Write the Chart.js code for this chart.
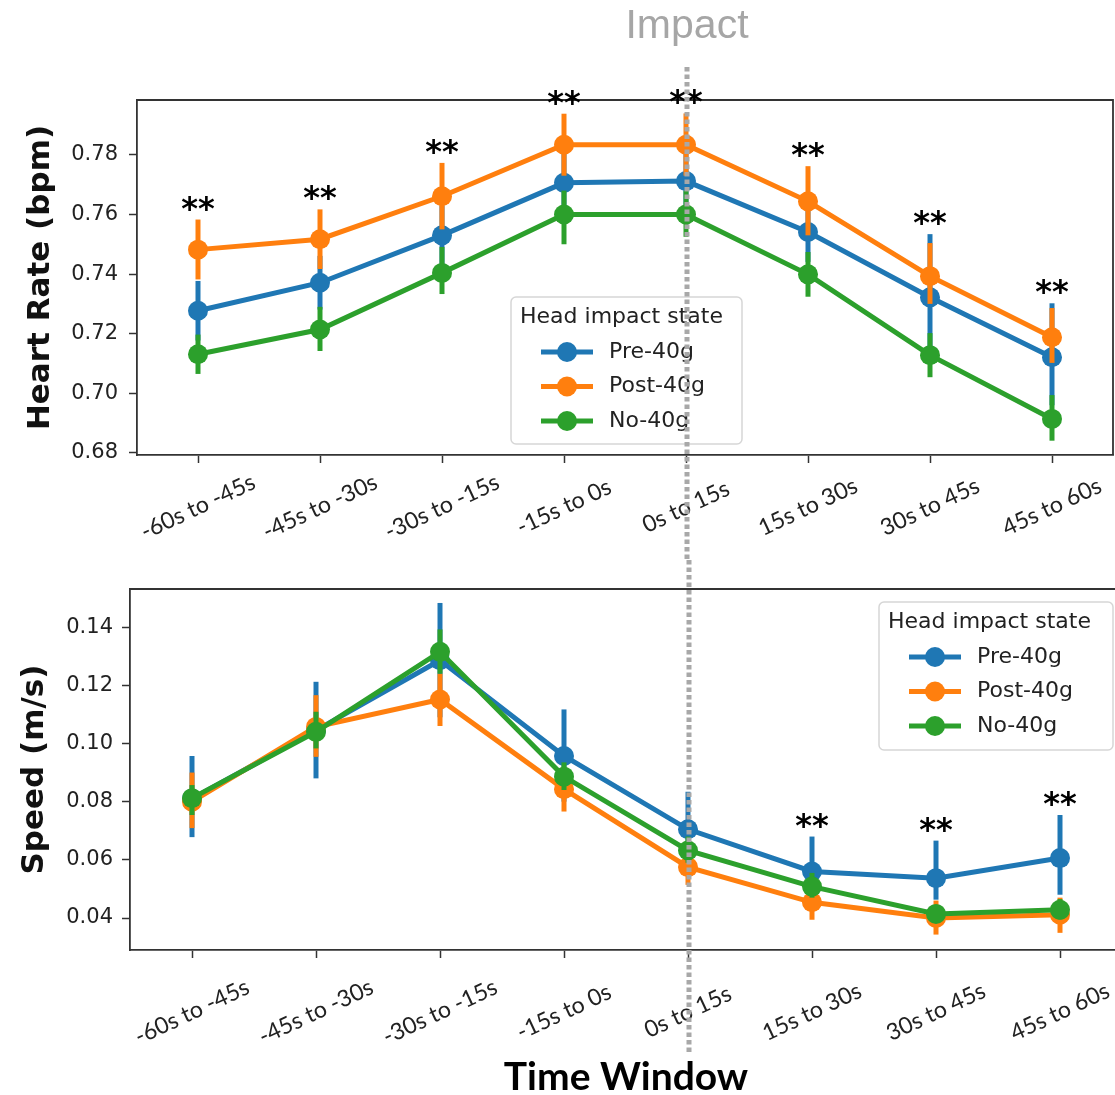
<!DOCTYPE html>
<html>
<head>
<meta charset="utf-8">
<script src="https://cdn.jsdelivr.net/npm/chart.js@4.4.1/dist/chart.umd.min.js"></script>
<style>
  html, body { margin: 0; padding: 0; background: #fff; overflow: hidden; width: 1115px; height: 1095px; }
  #wrap { position: relative; width: 1115px; height: 1095px; overflow: hidden; }
  canvas { position: absolute; left: 0; }
  #hr { top: 0; width: 1115px; height: 560px; }
  #speed { top: 560px; width: 1140px; height: 535px; }
</style>
</head>
<body>
<div id="wrap">
  <canvas id="hr" width="1115" height="560"></canvas>
  <canvas id="speed" width="1140" height="535"></canvas>
</div>
<script>
// Time windows around the head impact
const WINDOWS = ['-60s to -45s', '-45s to -30s', '-30s to -15s', '-15s to 0s',
                 '0s to 15s', '15s to 30s', '30s to 45s', '45s to 60s'];
const IMPACT_WINDOW = '0s to 15s';
const SERIES = ['Pre-40g', 'Post-40g', 'No-40g'];

// Heart rate: means with 95% CI bounds
const HR_PRE      = [0.7277, 0.7371, 0.7530, 0.7706, 0.7712, 0.7541, 0.7322, 0.7121];
const HR_PRE_LO   = [0.7177, 0.7281, 0.7430, 0.7606, 0.7612, 0.7441, 0.7112, 0.6960];
const HR_PRE_HI   = [0.7377, 0.7461, 0.7630, 0.7806, 0.7812, 0.7641, 0.7534, 0.7302];
const HR_POST     = [0.7482, 0.7517, 0.7661, 0.7834, 0.7834, 0.7644, 0.7393, 0.7188];
const HR_POST_LO  = [0.7382, 0.7417, 0.7550, 0.7730, 0.7730, 0.7530, 0.7300, 0.7102];
const HR_POST_HI  = [0.7583, 0.7617, 0.7773, 0.7938, 0.7939, 0.7762, 0.7504, 0.7286];
const HR_NO       = [0.7131, 0.7214, 0.7404, 0.7600, 0.7600, 0.7399, 0.7128, 0.6914];
const HR_NO_LO    = [0.7065, 0.7142, 0.7333, 0.7500, 0.7525, 0.7324, 0.7054, 0.6841];
const HR_NO_HI    = [0.7197, 0.7290, 0.7491, 0.7680, 0.7680, 0.7474, 0.7202, 0.6994];
const HR_TICKS    = [0.68, 0.70, 0.72, 0.74, 0.76, 0.78];
const HR_SIG      = ['**', '**', '**', '**', '**', '**', '**', '**'];

// Speed: means with 95% CI bounds
const SP_PRE      = [0.0810, 0.1045, 0.1286, 0.0957, 0.0705, 0.0560, 0.0537, 0.0606];
const SP_PRE_LO   = [0.0678, 0.0880, 0.1090, 0.0800, 0.0580, 0.0460, 0.0463, 0.0480];
const SP_PRE_HI   = [0.0957, 0.1212, 0.1483, 0.1117, 0.0834, 0.0680, 0.0666, 0.0754];
const SP_POST     = [0.0800, 0.1057, 0.1151, 0.0843, 0.0575, 0.0454, 0.0400, 0.0411];
const SP_POST_LO  = [0.0709, 0.0954, 0.1060, 0.0766, 0.0514, 0.0394, 0.0343, 0.0349];
const SP_POST_HI  = [0.0900, 0.1166, 0.1240, 0.0920, 0.0640, 0.0510, 0.0460, 0.0470];
const SP_NO       = [0.0812, 0.1040, 0.1315, 0.0886, 0.0632, 0.0508, 0.0414, 0.0428];
const SP_NO_LO    = [0.0754, 0.0983, 0.1240, 0.0840, 0.0590, 0.0470, 0.0385, 0.0395];
const SP_NO_HI    = [0.0857, 0.1109, 0.1392, 0.0935, 0.0680, 0.0555, 0.0445, 0.0465];
const SP_TICKS    = [0.04, 0.06, 0.08, 0.10, 0.12, 0.14];
const SP_SIG      = ['', '', '', '', '', '**', '**', '**'];

const COLORS = ['#1f77b4', '#ff7f0e', '#2ca02c'];
const AXIS = '#333333';
const TEXT = '#222222';

function makeDatasets(means, los, his) {
  // green drawn last (on top), blue first
  return means.map((m, k) => ({
    label: SERIES[k],
    data: m,
    errLo: los[k],
    errHi: his[k],
    borderColor: COLORS[k],
    backgroundColor: COLORS[k],
    pointBackgroundColor: COLORS[k],
    pointBorderColor: COLORS[k],
    pointBorderWidth: 0,
    pointRadius: 10,
    pointHoverRadius: 10,
    borderWidth: 5,
    tension: 0,
    fill: false,
    clip: false,
    order: 3 - k
  }));
}

// Vertical CI bars, drawn just before each series' line
const errorBars = {
  id: 'errorBars',
  beforeDatasetDraw(chart, args) {
    const ds = chart.data.datasets[args.index];
    const xs = chart.scales.x, ys = chart.scales.y, ctx = chart.ctx;
    ctx.save();
    ctx.strokeStyle = ds.borderColor;
    ctx.lineWidth = 5;
    ctx.lineCap = 'butt';
    ds.data.forEach((v, i) => {
      const px = xs.getPixelForValue(i);
      ctx.beginPath();
      ctx.moveTo(px, ys.getPixelForValue(ds.errLo[i]));
      ctx.lineTo(px, ys.getPixelForValue(ds.errHi[i]));
      ctx.stroke();
    });
    ctx.restore();
  }
};

// Top and right spines
const frame = {
  id: 'frame',
  beforeDatasetsDraw(chart) {
    const {ctx, chartArea: a} = chart;
    ctx.save();
    ctx.strokeStyle = AXIS;
    ctx.lineWidth = 1.8;
    ctx.beginPath();
    ctx.moveTo(a.left, a.top);
    ctx.lineTo(a.right, a.top);
    ctx.lineTo(a.right, a.bottom);
    ctx.stroke();
    ctx.restore();
  }
};

// Rotated category labels centred under each tick
const slantLabels = {
  id: 'slantLabels',
  afterDraw(chart, args, o) {
    const {ctx, chartArea: a} = chart;
    const xs = chart.scales.x;
    ctx.save();
    ctx.font = o.size + 'px Lato, "Open Sans", sans-serif';
    ctx.fillStyle = TEXT;
    ctx.textAlign = 'center';
    ctx.textBaseline = 'middle';
    chart.data.labels.forEach((lab, i) => {
      ctx.save();
      ctx.translate(xs.getPixelForValue(i), a.bottom + o.offset);
      ctx.rotate(-o.angle * Math.PI / 180);
      ctx.fillText(lab, 0, 0);
      ctx.restore();
    });
    ctx.restore();
  }
};

// Significance markers above the highest CI at each window
const sigStars = {
  id: 'sigStars',
  afterDatasetsDraw(chart, args, o) {
    const {ctx} = chart;
    const xs = chart.scales.x, ys = chart.scales.y;
    ctx.save();
    ctx.font = 'bold 32px "DejaVu Sans"';
    ctx.fillStyle = '#000';
    ctx.textAlign = 'center';
    ctx.textBaseline = 'alphabetic';
    o.marks.forEach((m, i) => {
      if (!m) return;
      const top = Math.max(...chart.data.datasets.map(d => d.errHi[i]));
      ctx.fillText(m, xs.getPixelForValue(i), ys.getPixelForValue(top) - 1);
    });
    ctx.restore();
  }
};

// Framed legend with a title
const boxLegend = {
  id: 'boxLegend',
  afterDatasetsDraw(chart, args, o) {
    const {ctx, chartArea: a} = chart;
    const x0 = a.left + o.dx, y0 = a.top + o.dy;
    ctx.save();
    ctx.beginPath();
    ctx.roundRect(x0, y0, o.w, o.h, 5);
    ctx.fillStyle = 'rgba(255,255,255,0.85)';
    ctx.fill();
    ctx.strokeStyle = '#d6d6d6';
    ctx.lineWidth = 1.5;
    ctx.stroke();
    ctx.font = '22px "DejaVu Sans"';
    ctx.fillStyle = TEXT;
    ctx.textAlign = 'left';
    ctx.textBaseline = 'middle';
    ctx.fillText(o.title, x0 + 9, y0 + 20);
    chart.data.datasets.forEach((d, k) => {
      const cy = y0 + 55 + k * 34.5;
      ctx.strokeStyle = d.borderColor;
      ctx.lineWidth = 5;
      ctx.beginPath();
      ctx.moveTo(x0 + 30, cy);
      ctx.lineTo(x0 + 82, cy);
      ctx.stroke();
      ctx.fillStyle = d.borderColor;
      ctx.beginPath();
      ctx.arc(x0 + 56, cy, 10, 0, Math.PI * 2);
      ctx.fill();
      ctx.fillStyle = TEXT;
      ctx.fillText(d.label, x0 + 98, cy);
    });
    ctx.restore();
  }
};

// Dotted marker at the impact window
const impactLine = {
  id: 'impactLine',
  afterDraw(chart, args, o) {
    const {ctx} = chart;
    const px = chart.scales.x.getPixelForValue(WINDOWS.indexOf(IMPACT_WINDOW)) + 1;
    ctx.save();
    ctx.strokeStyle = '#a8a8a8';
    ctx.lineWidth = 5;
    ctx.setLineDash([4.5, 3]);
    ctx.beginPath();
    ctx.moveTo(px, o.from);
    ctx.lineTo(px, o.to);
    ctx.stroke();
    ctx.setLineDash([]);
    if (o.text) {
      ctx.font = '41px "Liberation Sans", Arial, sans-serif';
      ctx.fillStyle = '#a6a6a6';
      ctx.textAlign = 'center';
      ctx.textBaseline = 'alphabetic';
      ctx.fillText(o.text, px, 38);
    }
    ctx.restore();
  }
};

function yAxis(min, max, ticks, title, width, pad, titlePad) {
  return {
    type: 'linear',
    min: min,
    max: max,
    afterBuildTicks: s => { s.ticks = ticks.map(v => ({value: v})); },
    afterFit: s => { s.width = width; },
    grid: { drawOnChartArea: false, drawTicks: true, tickLength: 8, tickWidth: 1.5, tickColor: AXIS },
    border: { display: true, color: AXIS, width: 1.8 },
    ticks: {
      callback: v => Number(v).toFixed(2),
      font: { family: 'DejaVu Sans', size: 21 },
      color: TEXT,
      padding: pad
    },
    title: {
      display: true,
      text: title,
      color: '#111',
      font: { family: 'DejaVu Sans', size: 31, weight: 'bold' },
      padding: { top: titlePad, bottom: 0 }
    }
  };
}

function xAxis(height, title) {
  return {
    type: 'category',
    offset: true,
    afterFit: s => { s.height = height; },
    grid: { drawOnChartArea: false, offset: false, drawTicks: true, tickLength: 8, tickWidth: 1.5, tickColor: AXIS },
    border: { display: true, color: AXIS, width: 1.8 },
    ticks: { display: false },
    title: title ? {
      display: true,
      text: title,
      color: '#000',
      font: { family: 'Lato', size: 39, weight: 'bold', lineHeight: 0.92 },
      padding: { top: 0, bottom: 0 }
    } : { display: false }
  };
}

const common = {
  type: 'line',
  plugins: [errorBars, frame, slantLabels, sigStars, boxLegend, impactLine]
};

new Chart(document.getElementById('hr'), {
  ...common,
  data: {
    labels: WINDOWS,
    datasets: makeDatasets([HR_PRE, HR_POST, HR_NO], [HR_PRE_LO, HR_POST_LO, HR_NO_LO], [HR_PRE_HI, HR_POST_HI, HR_NO_HI])
  },
  options: {
    responsive: false,
    animation: false,
    devicePixelRatio: 1,
    layout: { autoPadding: false, padding: { left: 0, top: 100, right: 2, bottom: 0 } },
    scales: {
      x: xAxis(105, null),
      y: yAxis(0.6793, 0.7984, HR_TICKS, 'Heart Rate (bpm)', 137, 11, 22)
    },
    plugins: {
      legend: { display: false },
      tooltip: { enabled: false },
      slantLabels: { size: 23, angle: 25, offset: 52 },
      sigStars: { marks: HR_SIG },
      boxLegend: { title: 'Head impact state', dx: 374, dy: 197, w: 231, h: 147 },
      impactLine: { from: 67, to: 560, text: 'Impact' }
    }
  }
});

new Chart(document.getElementById('speed'), {
  ...common,
  data: {
    labels: WINDOWS,
    datasets: makeDatasets([SP_PRE, SP_POST, SP_NO], [SP_PRE_LO, SP_POST_LO, SP_NO_LO], [SP_PRE_HI, SP_POST_HI, SP_NO_HI])
  },
  options: {
    responsive: false,
    animation: false,
    devicePixelRatio: 1,
    layout: { autoPadding: false, padding: { left: 0, top: 29, right: 18, bottom: 0 } },
    scales: {
      x: xAxis(145, 'Time Window'),
      y: yAxis(0.0290, 0.1531, SP_TICKS, 'Speed (m/s)', 130, 9, 16)
    },
    plugins: {
      legend: { display: false },
      tooltip: { enabled: false },
      slantLabels: { size: 23, angle: 25, offset: 62 },
      sigStars: { marks: SP_SIG },
      boxLegend: { title: 'Head impact state', dx: 749, dy: 13, w: 234, h: 148 },
      impactLine: { from: 0, to: 492, text: '' }
    }
  }
});
</script>
</body>
</html>
